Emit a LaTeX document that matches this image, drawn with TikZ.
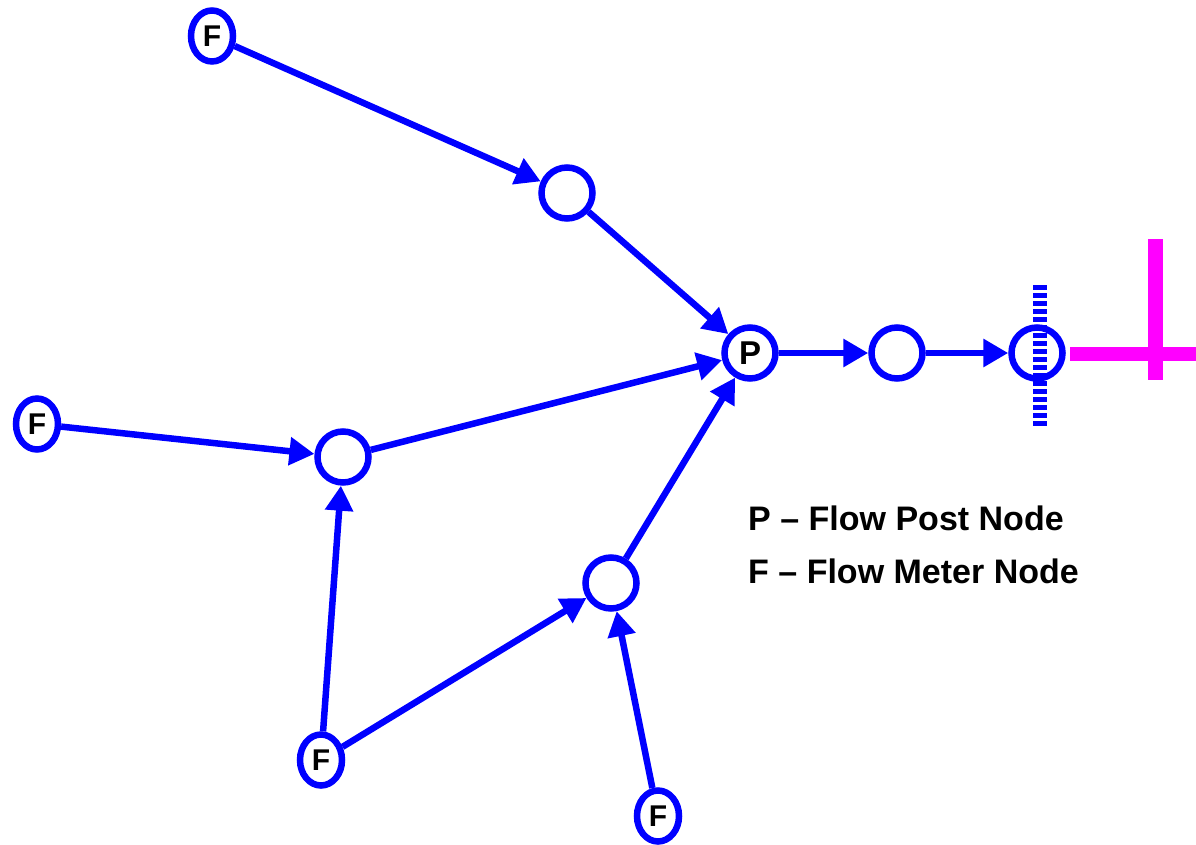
\documentclass[tikz,border=0pt]{standalone}
\usepackage{fontspec}
\setmainfont{Liberation Sans}
\usetikzlibrary{shapes.geometric,arrows.meta}
\definecolor{fblue}{RGB}{0,0,255}
\definecolor{fmag}{RGB}{255,0,255}
\tikzset{
  plain/.style={circle,draw=fblue,line width=6.5pt,minimum size=51pt,inner sep=0pt,fill=white},
  meter/.style={ellipse,draw=fblue,line width=6.5pt,minimum width=42pt,minimum height=51pt,inner sep=0pt,fill=white,font=\fontsize{30}{32}\selectfont\bfseries},
  flow/.style={draw=fblue,line width=6.5pt,-{Triangle[length=25pt,width=27pt]}},
  legend/.style={anchor=base west,inner sep=0pt,font=\fontsize{34}{40}\selectfont\bfseries}
}
\begin{document}
\begin{tikzpicture}[x=1pt,y=-1pt]
\useasboundingbox (0,0) rectangle (1196,845);
% magenta cross
\draw[fmag,line width=14pt] (1070,354) -- (1196,354);
\draw[fmag,line width=15pt] (1155,239) -- (1155,380);
% nodes
\node[meter] (F1) at (212,36) {F};
\node[plain] (N1) at (567,193) {};
\node[plain,font=\fontsize{33}{34}\selectfont\bfseries] (P) at (750,353) {P};
\node[plain] (N2) at (897,353) {};
\node[plain] (H) at (1037,353) {};
\node[meter] (F2) at (37,424) {F};
\node[plain] (N3) at (343,457) {};
\node[plain] (N4) at (611,583) {};
\node[meter] (F3) at (321,760) {F};
\node[meter] (F4) at (658,816) {F};
% hatched line through H
\coordinate (Ht) at (1040,285);
\coordinate (Hb) at (1040,428);
\draw[fblue,line width=14pt,dash pattern=on 4.5pt off 3.5pt] (Ht) -- (Hb);
% edges
\draw[flow] (F1) -- (N1);
\draw[flow] (N1) -- (P);
\draw[flow] (N3) -- (P);
\draw[flow] (N4) -- (P);
\draw[flow] (F2) -- (N3);
\draw[flow] (F3) -- (N3);
\draw[flow] (F3) -- (N4);
\draw[flow] (F4) -- (N4);
\draw[flow] (P) -- (N2);
\draw[flow] (N2) -- (H);
% legend
\node[legend] (L1) at (748,530) {P – Flow Post Node};
\node[legend] (L2) at (748,583) {F – Flow Meter Node};
\end{tikzpicture}
\end{document}
